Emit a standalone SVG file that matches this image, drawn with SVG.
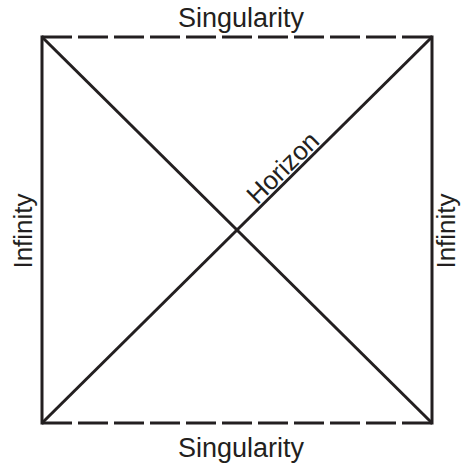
<svg xmlns="http://www.w3.org/2000/svg" width="461" height="468" viewBox="0 0 461 468">
<style>
.ln{stroke:#231f20;stroke-width:3;fill:none;stroke-linecap:butt}
.dash{stroke-dasharray:30 6}
.lbl{font-family:"Liberation Sans",Arial,sans-serif;font-size:26px;fill:#231f20}
.big{font-size:27px}
</style>
<rect width="461" height="468" fill="#ffffff"/>
<g id="connectors">
<line class="ln dash" x1="42" y1="37" x2="432" y2="37"/>
<line class="ln dash" x1="42" y1="423" x2="432" y2="423"/>
<line class="ln" x1="42" y1="35.5" x2="42" y2="424.5"/>
<line class="ln" x1="432" y1="35.5" x2="432" y2="424.5"/>
<line class="ln" x1="42" y1="37" x2="432" y2="423"/>
<line class="ln" x1="42" y1="423" x2="432" y2="37"/>
</g>
<g id="label-top"><text class="lbl big" x="241" y="27" text-anchor="middle">Singularity</text></g>
<g id="label-bottom"><text class="lbl big" x="241" y="457" text-anchor="middle">Singularity</text></g>
<g id="label-left"><text class="lbl" transform="translate(32,231) rotate(-90)" text-anchor="middle">Infinity</text></g>
<g id="label-right"><text class="lbl" transform="translate(455,231) rotate(-90)" text-anchor="middle">Infinity</text></g>
<g id="label-horizon"><text class="lbl" transform="translate(289,174) rotate(-44.7)" text-anchor="middle">Horizon</text></g>
</svg>
